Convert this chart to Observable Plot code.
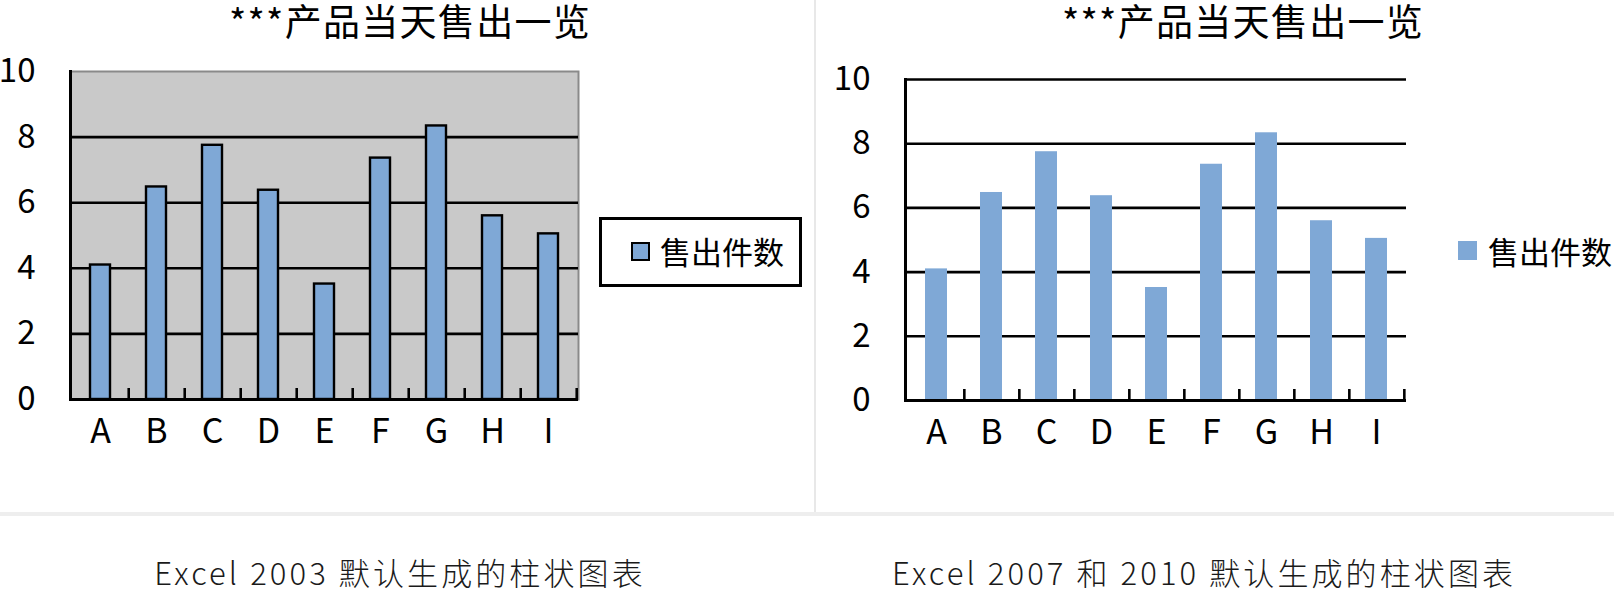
<!DOCTYPE html>
<html>
<head>
<meta charset="utf-8">
<script src="https://cdn.jsdelivr.net/npm/d3@7"></script>
<script src="https://cdn.jsdelivr.net/npm/@observablehq/plot@0.6"></script>
<style>
  html, body { margin: 0; padding: 0; background: #fff; }
  #page { position: relative; width: 1614px; height: 589px; overflow: hidden; font-family: "Noto Sans CJK SC", "Noto Sans", sans-serif; color: #000; }
  .abs { position: absolute; }
  .title { font-size: 37px; letter-spacing: 1.3px; white-space: nowrap; transform: translateX(-50%); line-height: 1.1; }
  .caption { font-size: 31px; font-weight: 300; letter-spacing: 3.1px; white-space: nowrap; transform: translateX(-50%); line-height: 1.1; color: #1a1a1a; }
  .legtext { font-size: 31px; line-height: 1.1; white-space: nowrap; }
</style>
</head>
<body>
<div id="page"></div>
<script>
// ---- data ----
const categories = ["A", "B", "C", "D", "E", "F", "G", "H", "I"];
const soldValues = [4.1, 6.48, 7.75, 6.38, 3.52, 7.36, 8.34, 5.6, 5.05];
const yTicks = [0, 2, 4, 6, 8, 10];
const gridTicks = [2, 4, 6, 8];
const chartTitle = "***产品当天售出一览";
const seriesName = "售出件数";
const captions = ["Excel 2003 默认生成的柱状图表", "Excel 2007 和 2010 默认生成的柱状图表"];

const data = categories.map((c, i) => ({cat: c, value: soldValues[i]}));
const page = document.getElementById("page");
const FONT = '"Noto Sans CJK SC", "Noto Sans", sans-serif';
const BLUE = "#7fa8d6";

function makeChart(opts) {
  const plotW = opts.width - opts.marginLeft - opts.marginRight;
  const plotH = opts.height - opts.marginTop - opts.marginBottom;
  const step = plotW / categories.length;
  const pxPerUnit = plotH / 10;
  const marks = [];
  if (opts.classic) {
    marks.push(Plot.frame({fill: "#c9c9c9", stroke: "#8a8a8a", strokeWidth: 2}));
  }
  marks.push(Plot.ruleY(opts.classic ? gridTicks : gridTicks.concat([10]), {stroke: "#000", strokeWidth: 2.6}));
  marks.push(Plot.barY(data, {
    x: "cat", y: "value", fill: BLUE,
    stroke: opts.classic ? "#000" : null, strokeWidth: 2.4
  }));
  // category tick marks at band boundaries (inside, upwards)
  marks.push(Plot.ruleX(categories, {
    x: d => d, dx: step / 2, y1: 0, y2: 11 / pxPerUnit, stroke: "#000", strokeWidth: 2.6
  }));
  marks.push(Plot.ruleY([0], {stroke: "#000", strokeWidth: 3}));
  marks.push(Plot.frame({anchor: "left", stroke: "#000", strokeWidth: 3}));
  marks.push(Plot.axisY({ticks: yTicks, tickSize: 0, tickPadding: 35, fontSize: 33, fill: "#000"}));
  marks.push(Plot.axisX({tickSize: 0, tickPadding: 19, fontSize: 34, fill: "#000"}));
  const svg = Plot.plot({
    width: opts.width, height: opts.height,
    marginLeft: opts.marginLeft, marginRight: opts.marginRight,
    marginTop: opts.marginTop, marginBottom: opts.marginBottom,
    x: {domain: categories, paddingInner: opts.padIn, paddingOuter: opts.padIn / 2, label: null},
    y: {domain: [0, 10], label: null},
    style: {fontFamily: FONT, background: "transparent", color: "#000", overflow: "visible"},
    marks
  });
  svg.style.position = "absolute";
  svg.style.left = opts.left + "px";
  svg.style.top = opts.top + "px";
  page.appendChild(svg);
}

// left: Excel 2003 style
makeChart({classic: true, left: 0, top: 0, width: 600, height: 470,
  marginLeft: 70, marginRight: 22, marginTop: 71, marginBottom: 71, padIn: 0.64});
// right: Excel 2007/2010 style
makeChart({classic: false, left: 835, top: 0, width: 590, height: 470,
  marginLeft: 70, marginRight: 19, marginTop: 79, marginBottom: 70, padIn: 0.6});

function addDiv(cls, text, css) {
  const d = document.createElement("div");
  d.className = "abs " + (cls || "");
  if (text != null) d.textContent = text;
  Object.assign(d.style, css);
  page.appendChild(d);
  return d;
}

// titles
addDiv("title", chartTitle, {left: "410px", top: "0px"});
addDiv("title", chartTitle, {left: "1243px", top: "0px"});

// left legend (boxed)
addDiv("", null, {left: "599px", top: "217px", width: "197px", height: "64px", border: "3px solid #000", background: "#fff"});
addDiv("", null, {left: "631px", top: "242px", width: "15px", height: "15px", border: "2.5px solid #000", background: BLUE});
addDiv("legtext", seriesName, {left: "660px", top: "234px"});

// right legend
addDiv("", null, {left: "1458px", top: "241px", width: "19px", height: "19px", background: BLUE});
addDiv("legtext", seriesName, {left: "1488px", top: "234px"});

// separators
addDiv("", null, {left: "814px", top: "0px", width: "2px", height: "512px", background: "#e8e8e8"});
addDiv("", null, {left: "0px", top: "512px", width: "1614px", height: "4px", background: "#eeeeee"});

// captions
addDiv("caption", captions[0], {left: "400px", top: "555px"});
addDiv("caption", captions[1], {left: "1204px", top: "555px"});
</script>
</body>
</html>
